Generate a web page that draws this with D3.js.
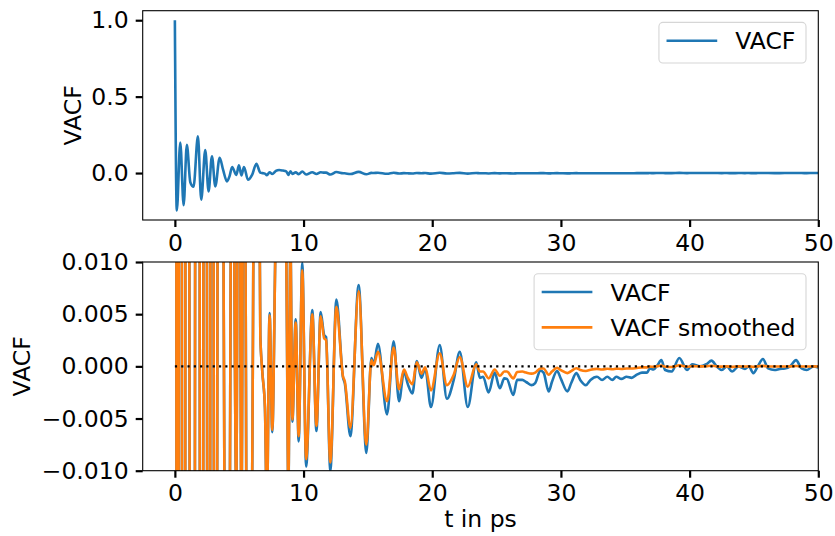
<!DOCTYPE html>
<html>
<head>
<meta charset="utf-8">
<script src="https://cdn.jsdelivr.net/npm/d3@7"></script>
<style>
  html, body { margin: 0; padding: 0; background: #fff; }
  svg { display: block; }
  text { font-family: "DejaVu Sans", sans-serif; }
</style>
</head>
<body>
<svg id="chart" width="835" height="536"></svg>
<script>
// time in ps
const time = [
  0, 0.15, 0.42, 0.68, 0.93, 1.2, 1.45, 1.79, 2.05, 2.36, 2.62, 2.88, 3.14, 3.48, 3.75, 4.05, 4.25, 4.45, 4.77, 4.98,
  5.17, 5.37, 5.68, 6.0, 6.33, 6.64, 6.8, 7.0, 7.15, 7.36, 7.57, 7.85, 8.1, 8.4, 8.65, 8.82, 8.98, 9.13, 9.39, 9.62,
  9.9, 10.2, 10.68, 11.0, 11.33, 11.6, 11.75, 12.08, 12.55, 13.07, 13.2, 13.64, 14.28, 14.88, 15.27, 15.45, 15.78, 16.49, 17.0, 17.42,
  17.8, 18.1, 18.46, 18.8, 19.16, 19.45, 19.9, 20.58, 21.14, 21.67, 22.14, 22.76, 23.42, 23.7, 23.95, 24.38, 24.85, 25.25, 25.6, 25.8,
  26.3, 26.6, 27.0, 27.3, 27.7, 28.0, 28.4, 28.65, 29.05, 29.3, 29.7, 30.0, 30.5, 30.8, 31.2, 31.5, 31.94, 32.3, 32.8, 33.2,
  33.6, 34.0, 34.3, 34.7, 35.1, 35.5, 35.9, 36.3, 36.7, 36.9, 37.2, 37.5, 37.8, 38.1, 38.6, 39.2, 39.8, 40.2, 40.8, 41.3,
  41.7, 42.1, 42.5, 42.9, 43.3, 43.8, 44.3, 44.6, 44.95, 45.3, 45.7, 46.1, 46.6, 47.0, 47.4, 47.8, 48.27, 48.7, 49.1, 49.6,
  50.0
];

// velocity autocorrelation function
const vacf = [
  1.0, -0.245, 0.20, -0.21, 0.185, -0.06, -0.09, 0.24, -0.175, 0.15, -0.12, 0.11, -0.087, 0.10, 0.02, -0.055, -0.02, 0.04, -0.012, 0.05,
  -0.015, 0.04, -0.044, -0.012, 0.06, 0.003, -0.0006, -0.004, -0.014, 0.0051, -0.0063, 0.014, 0.02, 0.016, 0.011, -0.012, 0.012, -0.0053, 0.0045, -0.0072,
  0.0099, -0.0096, 0.0054, -0.0062, 0.0052, 0.0030, 0.0028, -0.0100, 0.0064, -0.0011, -0.0016, -0.0067, 0.0078, -0.0083, 0.0008, 0.0002, 0.00215, -0.0046, 0.0024, -0.00335,
  -0.0005, -0.0017, -0.0026, 0.0005, -0.0011, -0.0002, -0.0039, 0.00205, -0.0031, -0.0013, 0.0014, -0.0039, 0.0004, -0.0011, -0.0010, -0.0025, -0.0006, -0.0021, -0.00115, -0.0012,
  -0.00275, -0.0013, -0.0013, -0.0015, -0.0018, -0.0016, -0.0004, -0.0006, -0.0024, -0.0015, -0.00045, -0.0012, -0.0024, -0.0016, -0.00065, -0.0013, -0.0018, -0.0013, -0.0010, -0.0013,
  -0.0010, -0.0013, -0.0010, -0.0012, -0.0010, -0.0011, -0.0008, -0.0006, -0.0006, -0.0002, -0.0003, 0.0001, 0.0006, -0.00035, -0.0005, 0.0008, -0.00035, 0.0002, 0.0, 0.0002,
  0.00055, 0.0, -0.00035, 0.0, -0.0005, 0.0, -0.00025, 0.0, -0.00065, 0.0, 0.0007, -0.0002, -0.00035, -0.00025, -0.0002, 0.0, 0.0006, -0.0002, -0.00035, 0.0,
  -0.0001
];

// smoothed VACF
const vacfSmoothed = [
  1.0, -0.24, 0.196, -0.206, 0.181, -0.059, -0.088, 0.235, -0.171, 0.147, -0.117, 0.108, -0.085, 0.098, 0.0196, -0.054, -0.0196, 0.039, -0.0118, 0.049,
  -0.0147, 0.039, -0.043, -0.0118, 0.0588, 0.0029, -0.0006, -0.0039, -0.0137, 0.0049, -0.0061, 0.0136, 0.0194, 0.0155, 0.0107, -0.0116, 0.0116, -0.0051, 0.0042, -0.0067,
  0.0092, -0.0089, 0.0050, -0.0057, 0.0048, 0.0027, 0.0025, -0.0092, 0.0057, -0.0010, -0.0014, -0.0059, 0.0072, -0.0075, 0.0006, 0.0001, 0.0014, -0.00335, 0.0018, -0.0022,
  -0.0003, -0.0011, -0.0017, 0.0004, -0.0007, -0.0001, -0.0023, 0.00125, -0.0018, -0.0008, 0.0009, -0.00195, 0.0002, -0.0005, -0.0005, -0.00115, -0.0003, -0.0009, -0.0005, -0.0005,
  -0.00115, -0.00055, -0.0005, -0.0006, -0.0007, -0.0006, -0.0002, -0.0002, -0.0008, -0.0005, -0.00015, -0.00036, -0.00065, -0.00045, -0.00018, -0.00035, -0.00045, -0.00032, -0.00024, -0.0003,
  -0.00023, -0.00028, -0.00022, -0.00025, -0.0002, -0.00021, -0.00015, -0.0001, -0.0001, -0.00003, -0.00005, 0.00002, 0.00008, -0.00004, -0.00006, 0.0001, -0.00004, 0.00002, 0.0, 0.00002,
  0.00006, 0.0, -0.00003, 0.0, -0.00005, 0.0, -0.00002, 0.0, -0.00005, 0.0, 0.00005, -0.00001, -0.00002, -0.00002, -0.00001, 0.0, 0.00004, -0.00001, -0.00002, 0.0,
  -0.00001
];

const xTicks = [0, 10, 20, 30, 40, 50];
const yTicksTop = [0.0, 0.5, 1.0];
const yTicksBottom = [-0.010, -0.005, 0.000, 0.005, 0.010];
const labels = { x: "t in ps", y: "VACF" };
const legendTop = ["VACF"];
const legendBottom = ["VACF", "VACF smoothed"];

const BLUE = "#1f77b4", ORANGE = "#ff7f0e";
const FS = 23.5;
const LW = 2.6;
const svg = d3.select("#chart");

const L = 142.7, R = 818.3;
const top1 = { top: 10.7, bottom: 220 };
const top2 = { top: 262, bottom: 470.7 };

const x = d3.scaleLinear().domain([-2.5, 50]).range([L, R]);
const ext = d3.extent(vacf);
const pad = (ext[1] - ext[0]) * 0.05;
const y1 = d3.scaleLinear().domain([ext[0] - pad, ext[1] + pad]).range([top1.bottom, top1.top]);
const y2 = d3.scaleLinear().domain([-0.01, 0.01]).range([top2.bottom, top2.top]);

const data = time.map((t, i) => ({ t, v: vacf[i], s: vacfSmoothed[i] }));

const defs = svg.append("defs");
[["clip1", top1], ["clip2", top2]].forEach(([id, b]) => {
  defs.append("clipPath").attr("id", id).append("rect")
    .attr("x", L).attr("y", b.top).attr("width", R - L).attr("height", b.bottom - b.top);
});

function styleAxis(g) {
  g.select(".domain").remove();
  g.selectAll(".tick line").attr("stroke", "#000").attr("stroke-width", 2.2);
  g.selectAll(".tick text").attr("font-size", FS).attr("fill", "#000")
    .attr("font-family", "DejaVu Sans");
}

function panel(b, y, yTicks, yFmt, clipId) {
  svg.append("g").attr("transform", `translate(0,${b.bottom})`)
    .call(d3.axisBottom(x).tickValues(xTicks).tickFormat(d3.format("d")).tickSize(7).tickPadding(7))
    .call(styleAxis);
  svg.append("g").attr("transform", `translate(${L},0)`)
    .call(d3.axisLeft(y).tickValues(yTicks).tickFormat(yFmt).tickSize(7).tickPadding(7))
    .call(styleAxis);
  return svg.append("g").attr("clip-path", `url(#${clipId})`);
}

// top panel
const g1 = panel(top1, y1, yTicksTop, d3.format(".1f"), "clip1");
g1.append("path").datum(data)
  .attr("fill", "none").attr("stroke", BLUE).attr("stroke-width", LW).attr("stroke-linejoin", "round")
  .attr("d", d3.line().x(d => x(d.t)).y(d => y1(d.v)).curve(d3.curveMonotoneX));

// bottom panel
const g2 = panel(top2, y2, yTicksBottom, d3.format(".3f"), "clip2");
g2.append("path").datum(data)
  .attr("fill", "none").attr("stroke", BLUE).attr("stroke-width", LW).attr("stroke-linejoin", "round")
  .attr("d", d3.line().x(d => x(d.t)).y(d => y2(d.v)).curve(d3.curveMonotoneX));
g2.append("path").datum(data)
  .attr("fill", "none").attr("stroke", ORANGE).attr("stroke-width", LW).attr("stroke-linejoin", "round")
  .attr("d", d3.line().x(d => x(d.t)).y(d => y2(d.s)).curve(d3.curveMonotoneX));
g2.append("line")
  .attr("x1", x(0)).attr("x2", x(50)).attr("y1", y2(0)).attr("y2", y2(0))
  .attr("stroke", "#000").attr("stroke-width", 2.2).attr("stroke-dasharray", "2.2,4.1");

// frames
[top1, top2].forEach(b => {
  svg.append("rect").attr("x", L).attr("y", b.top).attr("width", R - L).attr("height", b.bottom - b.top)
    .attr("fill", "none").attr("stroke", "#000").attr("stroke-width", 1.1);
});

// axis labels
svg.append("text").attr("transform", `translate(81,${(top1.top + top1.bottom) / 2}) rotate(-90)`)
  .attr("text-anchor", "middle").attr("font-size", FS).text(labels.y);
svg.append("text").attr("transform", `translate(30,${(top2.top + top2.bottom) / 2}) rotate(-90)`)
  .attr("text-anchor", "middle").attr("font-size", FS).text(labels.y);
svg.append("text").attr("x", (L + R) / 2).attr("y", 527)
  .attr("text-anchor", "middle").attr("font-size", FS).text(labels.x);

// legends
function legend(b, names, colors) {
  const rowH = 35.4, padTop = 18.3, padBottom = 22.3;
  const g = svg.append("g");
  const right = R - 12.3;
  const boxTop = b.top + 11.7;
  const tmp = names.map(n => g.append("text").attr("font-size", FS).text(n));
  const tw = d3.max(tmp, t => t.node().getComputedTextLength());
  tmp.forEach(t => t.remove());
  const boxW = 7.6 + 50.7 + 18 + tw + 10.6;
  const boxH = padTop + rowH * (names.length - 1) + padBottom;
  const left = right - boxW;
  g.append("rect").attr("x", left).attr("y", boxTop).attr("width", boxW).attr("height", boxH)
    .attr("rx", 4).attr("fill", "#fff").attr("fill-opacity", 0.8)
    .attr("stroke", "#d6d6d6").attr("stroke-width", 1.1);
  names.forEach((n, i) => {
    const yy = boxTop + padTop + i * rowH;
    g.append("line").attr("x1", left + 7.6).attr("x2", left + 7.6 + 50.7).attr("y1", yy).attr("y2", yy)
      .attr("stroke", colors[i]).attr("stroke-width", LW);
    g.append("text").attr("x", left + 7.6 + 50.7 + 18).attr("y", yy + 8.6)
      .attr("font-size", FS).attr("fill", "#000").text(n);
  });
}
legend(top1, legendTop, [BLUE]);
legend(top2, legendBottom, [BLUE, ORANGE]);
</script>
</body>
</html>
